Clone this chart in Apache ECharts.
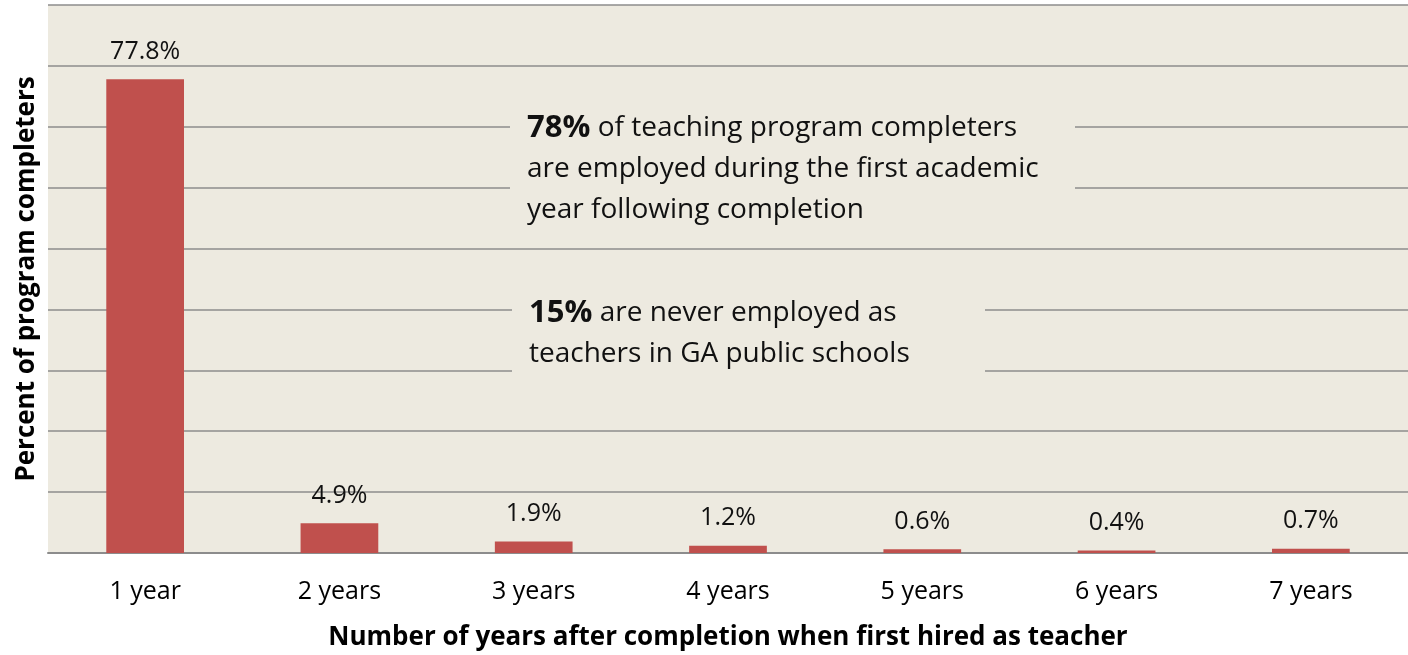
<!DOCTYPE html>
<html>
<head>
<meta charset="utf-8">
<script src="https://cdn.jsdelivr.net/npm/echarts@6/dist/echarts.min.js"></script>
<style>
  html, body { margin: 0; padding: 0; background: #fff; }
  #chart { width: 1408px; height: 655px; }
</style>
</head>
<body>
<div id="chart"></div>
<script>
  // 数据
  const years = ['1 year', '2 years', '3 years', '4 years', '5 years', '6 years', '7 years']
  const percents = [77.8, 4.9, 1.9, 1.2, 0.6, 0.4, 0.7]
  const note1Lines = ['{b|78%} of teaching program completers', 'are employed during the first academic', 'year following completion']
  const note2Lines = ['{b|15%} are never employed as', 'teachers in GA public schools']

  const FONT = '"Open Sans", sans-serif'
  const PLOT_BG = '#EDEAE0'

  const chart = echarts.init(document.getElementById('chart'))

  // 注释框背景：盖住网格线
  const noteBox = function (box) {
    return {
      type: 'rect',
      z: 100,
      shape: box,
      style: { fill: PLOT_BG }
    }
  }

  // 注释文字
  const noteText = function (lines, x, y) {
    return {
      type: 'text',
      z: 101,
      x: x,
      y: y,
      style: {
        text: lines.join('\n'),
        fontFamily: FONT,
        fontSize: 28,
        lineHeight: 41,
        fill: '#111',
        rich: {
          b: { fontFamily: FONT, fontSize: 31, fontWeight: 'bold', fill: '#111', lineHeight: 41 }
        }
      }
    }
  }

  const option = {
    animation: false,
    grid: {
      left: 48,
      right: 0,
      top: 5,
      bottom: 102,
      outerBoundsMode: 'none',
      show: true,
      backgroundColor: PLOT_BG,
      borderWidth: 0
    },
    xAxis: {
      type: 'category',
      data: years,
      name: 'Number of years after completion when first hired as teacher',
      nameLocation: 'middle',
      nameGap: 72,
      nameTextStyle: { fontFamily: FONT, fontSize: 26, fontWeight: 'bold', color: '#000' },
      axisLine: { lineStyle: { color: '#8c8c8c', width: 2 } },
      axisTick: { length: 9, lineStyle: { color: '#8c8c8c', width: 1.5 } },
      axisLabel: { fontFamily: FONT, fontSize: 25, color: '#000', margin: 26 }
    },
    yAxis: {
      type: 'value',
      min: 0,
      max: 90,
      interval: 10,
      name: 'Percent of program completers',
      nameLocation: 'middle',
      nameGap: 8,
      nameTextStyle: { fontFamily: FONT, fontSize: 26, fontWeight: 'bold', color: '#000' },
      axisLine: { show: false },
      axisTick: { show: false },
      axisLabel: { show: false },
      splitLine: { lineStyle: { color: '#8c8c8c', width: 1.5 } }
    },
    series: [
      {
        type: 'bar',
        data: percents,
        barWidth: '40%',
        itemStyle: { color: '#C0504D' },
        label: {
          show: true,
          position: 'top',
          distance: 15,
          formatter: '{c}%',
          fontFamily: FONT,
          fontSize: 25,
          color: '#111'
        }
      }
    ],
    graphic: [
      noteBox({ x: 510, y: 100, width: 565, height: 132 }),
      noteText(note1Lines, 527, 108),
      noteBox({ x: 512, y: 285, width: 473, height: 108 }),
      noteText(note2Lines, 529, 293)
    ]
  }

  chart.setOption(option)
</script>
</body>
</html>
